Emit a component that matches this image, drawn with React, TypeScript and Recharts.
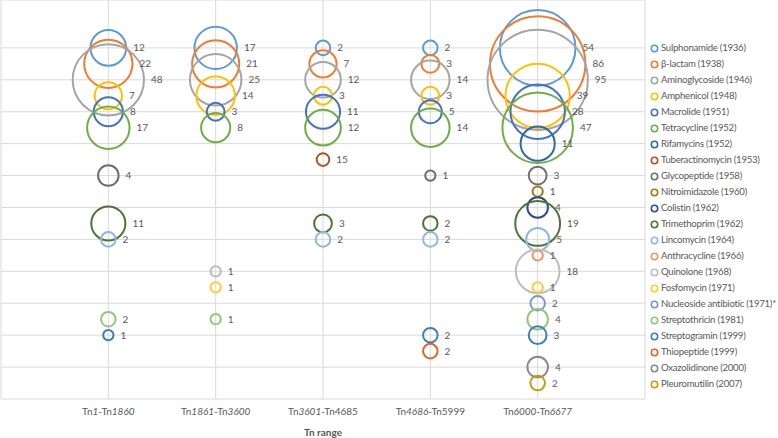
import { CartesianGrid, LabelList, Legend, Scatter, ScatterChart, XAxis, YAxis, ZAxis } from "recharts";

// Tn ranges on the x axis; numbers flagged in rangeItalic are drawn in italics
const rangeLabels = ["Tn1-Tn1860", "Tn1861-Tn3600", "Tn3601-Tn4685", "Tn4686-Tn5999", "Tn6000-Tn6677"];
const rangeItalic = [
  [true, true],
  [true, true],
  [true, false],
  [true, false],
  [true, true],
];

const classNames = [
  "Sulphonamide (1936)",
  "β-lactam (1938)",
  "Aminoglycoside (1946)",
  "Amphenicol (1948)",
  "Macrolide (1951)",
  "Tetracycline (1952)",
  "Rifamycins (1952)",
  "Tuberactinomycin (1953)",
  "Glycopeptide (1958)",
  "Nitroimidazole (1960)",
  "Colistin (1962)",
  "Trimethoprim (1962)",
  "Lincomycin (1964)",
  "Anthracycline (1966)",
  "Quinolone (1968)",
  "Fosfomycin (1971)",
  "Nucleoside antibiotic (1971)*",
  "Streptothricin (1981)",
  "Streptogramin (1999)",
  "Thiopeptide (1999)",
  "Oxazolidinone (2000)",
  "Pleuromutilin (2007)",
];

const classColors = [
  "#5B9BD5", "#ED7D31", "#A5A5A5", "#FFC000", "#4472C4", "#70AD47",
  "#2E6BA4", "#A8562A", "#6E6E6E", "#A07C10", "#2F4E86", "#4C7434",
  "#8DB8E2", "#F1975A", "#BDBDBD", "#FFCD33", "#7596D4", "#95C673",
  "#3A7FC0", "#D56A2A", "#8A8A8A", "#CC9A10",
];

// number of Tn per class in each range (null = none)
const counts: (number | null)[][] = [
  [12, 17, 2, 2, 54],
  [22, 21, 7, 3, 86],
  [48, 25, 12, 14, 95],
  [7, 14, 3, 3, 39],
  [8, 3, 11, 5, 28],
  [17, 8, 12, 14, 47],
  [null, null, null, null, 11],
  [null, null, 15, null, null],
  [4, null, null, 1, 3],
  [null, null, null, null, 1],
  [null, null, null, null, 4],
  [11, null, 3, 2, 19],
  [2, null, 2, 2, 5],
  [null, null, null, null, 1],
  [null, 1, null, null, 18],
  [null, 1, null, null, 1],
  [null, null, null, null, 2],
  [2, 1, null, null, 4],
  [1, null, null, 2, 3],
  [null, null, null, 2, null],
  [null, null, null, null, 4],
  [null, null, null, null, 2],
];

// the bubble drawn for Tuberactinomycin in Tn3601-Tn4685 is much smaller than its label
const sizeOverrides: Record<string, number> = { "7-2": 1.5 };

const xTicks = [0, 1, 2, 3, 4, 5, 6];
const yTicks = Array.from({ length: 26 }, (_, i) => i);

const FONT = "Lato, 'Open Sans', sans-serif";
const TEXT = "#595959";

const seriesData = classNames.map((name, ci) =>
  counts[ci]
    .map((v, ri) =>
      v == null
        ? null
        : { x: ri + 1, y: classNames.length - ci, z: sizeOverrides[`${ci}-${ri}`] ?? v, label: v }
    )
    .filter((p) => p !== null)
);

function RangeTick(props: any) {
  const { x, y, payload } = props;
  const idx = payload.value - 1;
  const label = rangeLabels[idx];
  if (!label) return null;
  const parts = label.split(/(\d+)/).filter((s) => s !== "");
  let n = 0;
  return (
    <text x={x} y={y + 16} textAnchor="middle" fontSize={10} fontFamily={FONT} fill={TEXT}>
      {parts.map((p, i) => {
        if (/^\d+$/.test(p)) {
          const it = rangeItalic[idx][n++];
          return (
            <tspan key={i} fontStyle={it ? "italic" : "normal"}>
              {p}
            </tspan>
          );
        }
        return <tspan key={i}>{p}</tspan>;
      })}
    </text>
  );
}

function ClassLegend() {
  return (
    <div style={{ fontFamily: FONT, fontSize: 9.6, letterSpacing: -0.25, color: TEXT, whiteSpace: "nowrap" }}>
      {classNames.map((name, i) => (
        <div key={name} style={{ height: 16, lineHeight: "16px", display: "flex", alignItems: "center" }}>
          <svg width={9} height={9} style={{ marginRight: 2 }}>
            <circle cx={4.5} cy={4.5} r={3.2} fill="none" stroke={classColors[i]} strokeWidth={1.6} />
          </svg>
          {name}
        </div>
      ))}
    </div>
  );
}

export default function App() {
  return (
    <div style={{ position: "absolute", left: 0, top: 0, width: 778, height: 438, overflow: "hidden", background: "#fff" }}>
      <ScatterChart width={778} height={438} margin={{ top: 0, right: 7, bottom: 0, left: 1 }}>
        <CartesianGrid stroke="#D9D9D9" verticalValues={xTicks} horizontalValues={yTicks} />
        <XAxis
          type="number"
          dataKey="x"
          domain={[0, 6]}
          ticks={xTicks}
          interval={0}
          axisLine={false}
          tickLine={false}
          tickSize={0}
          tickMargin={0}
          height={39}
          tick={<RangeTick />}
          label={{ value: "Tn range", position: "insideBottom", offset: 2, fontSize: 10, fontWeight: "bold", fill: TEXT, fontFamily: FONT }}
        />
        <YAxis type="number" dataKey="y" domain={[0, 25]} ticks={yTicks} hide />
        <ZAxis type="number" dataKey="z" domain={[0, 95]} range={[0, 7900]} />
        <Legend
          layout="vertical"
          align="right"
          verticalAlign="top"
          content={<ClassLegend />}
          wrapperStyle={{ left: 650, top: 40, width: 126, overflow: "visible" }}
        />
        {classNames.map((name, ci) => (
          <Scatter
            key={name}
            name={name}
            data={seriesData[ci]}
            fill="none"
            stroke={classColors[ci]}
            strokeWidth={2}
            isAnimationActive={false}
          >
            <LabelList dataKey="label" position="right" offset={7} fontSize={10} fill={TEXT} fontFamily={FONT} />
          </Scatter>
        ))}
      </ScatterChart>
    </div>
  );
}
